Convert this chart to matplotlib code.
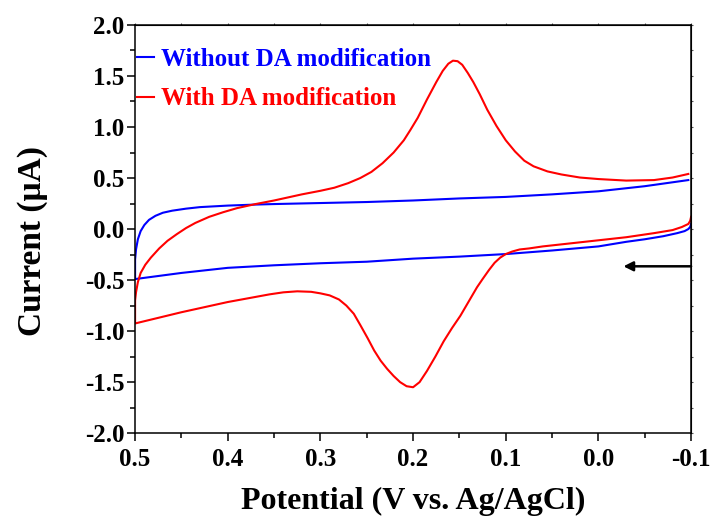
import matplotlib
matplotlib.use('Agg')
import matplotlib.pyplot as plt
from matplotlib.ticker import MultipleLocator

plt.rcParams['font.family'] = ['Liberation Serif', 'DejaVu Serif']
plt.rcParams['font.weight'] = 'bold'

# Without DA modification: lower branch (right -> left), then upper branch (left -> right)
blue_x = [-0.100, -0.099, -0.097, -0.093, -0.085, -0.070, -0.050, -0.030, 0.000, 0.050,
          0.100, 0.150, 0.200, 0.250, 0.300, 0.350, 0.400, 0.450, 0.500,
          0.500, 0.500, 0.499, 0.497, 0.494, 0.490, 0.485, 0.478, 0.470, 0.460,
          0.445, 0.430, 0.400, 0.370, 0.350, 0.300, 0.250, 0.200, 0.150, 0.100,
          0.050, 0.000, -0.050, -0.097]
blue_y = [0.05, 0.02, 0.00, -0.02, -0.04, -0.07, -0.10, -0.125, -0.17, -0.21,
          -0.245, -0.27, -0.29, -0.32, -0.335, -0.355, -0.38, -0.43, -0.49,
          -0.40, -0.30, -0.20, -0.10, -0.02, 0.04, 0.09, 0.13, 0.16, 0.18,
          0.20, 0.215, 0.23, 0.24, 0.245, 0.255, 0.265, 0.28, 0.30, 0.315,
          0.34, 0.37, 0.42, 0.48]

# With DA modification
red_x = [-0.100, -0.099, -0.097, -0.090, -0.080, -0.060, -0.030, 0.000, 0.030, 0.060,
         0.075, 0.085, 0.093, 0.100, 0.106, 0.112, 0.118, 0.125, 0.131, 0.140,
         0.149, 0.158, 0.167, 0.176, 0.185, 0.193, 0.200, 0.207, 0.214, 0.221,
         0.228, 0.235, 0.242, 0.249, 0.257, 0.264, 0.272, 0.280, 0.290, 0.300,
         0.310, 0.325, 0.340, 0.355, 0.370, 0.385, 0.400, 0.425, 0.450, 0.475, 0.500,
         0.500, 0.500, 0.499, 0.497, 0.494, 0.489, 0.483, 0.474, 0.465, 0.455,
         0.445, 0.435, 0.420, 0.405, 0.390, 0.370, 0.350, 0.335, 0.320, 0.300,
         0.285, 0.270, 0.257, 0.245, 0.233, 0.221, 0.210, 0.203, 0.195, 0.185,
         0.175, 0.168, 0.162, 0.157, 0.152, 0.147, 0.141, 0.135, 0.128, 0.120,
         0.110, 0.100, 0.090, 0.080, 0.070, 0.055, 0.040, 0.020, 0.000, -0.030,
         -0.060, -0.080, -0.097]
red_y = [0.12, 0.08, 0.05, 0.02, -0.01, -0.04, -0.08, -0.11, -0.14, -0.17,
         -0.19, -0.20, -0.22, -0.245, -0.28, -0.33, -0.40, -0.49, -0.57, -0.71,
         -0.85, -0.97, -1.10, -1.25, -1.39, -1.50, -1.55, -1.54, -1.50, -1.44,
         -1.37, -1.29, -1.19, -1.07, -0.94, -0.83, -0.75, -0.69, -0.65, -0.63,
         -0.615, -0.61, -0.62, -0.64, -0.665, -0.69, -0.715, -0.765, -0.815, -0.87, -0.925,
         -0.80, -0.70, -0.62, -0.52, -0.43, -0.35, -0.28, -0.19, -0.115, -0.05,
         0.01, 0.06, 0.12, 0.165, 0.205, 0.245, 0.28, 0.31, 0.34, 0.375,
         0.405, 0.45, 0.50, 0.56, 0.645, 0.75, 0.87, 0.97, 1.09, 1.27,
         1.44, 1.55, 1.62, 1.65, 1.645, 1.61, 1.53, 1.44, 1.32, 1.17,
         1.01, 0.87, 0.76, 0.67, 0.615, 0.565, 0.535, 0.505, 0.49, 0.475,
         0.48, 0.505, 0.54]

labels = ['Without DA modification', 'With DA modification']
colors = ['#0000ff', '#ff0000']

fig = plt.figure(figsize=(7.11, 5.20), dpi=100)
ax = fig.add_axes([0.190, 0.167, 0.782, 0.785])

ax.plot(blue_x, blue_y, color=colors[0], lw=1.5, label=labels[0])
ax.plot(red_x, red_y, color=colors[1], lw=1.5, label=labels[1])

# scan direction arrow
ax.annotate('', xy=(-0.027, -0.365), xytext=(-0.1, -0.365),
            arrowprops=dict(arrowstyle='-|>', color='black', lw=1.8, mutation_scale=14,
                            shrinkA=0, shrinkB=0))

ax.set_xlim(0.5, -0.1)
ax.set_ylim(-2.0, 2.0)
ax.xaxis.set_minor_locator(MultipleLocator(0.05))
ax.yaxis.set_minor_locator(MultipleLocator(0.25))
ax.set_xticks([0.5, 0.4, 0.3, 0.2, 0.1, 0.0, -0.1])
ax.set_xticklabels(['0.5', '0.4', '0.3', '0.2', '0.1', '0.0', '-0.1'])
ax.set_yticks([-2.0, -1.5, -1.0, -0.5, 0.0, 0.5, 1.0, 1.5, 2.0])
ax.set_yticklabels(['-2.0', '-1.5', '-1.0', '-0.5', '0.0', '0.5', '1.0', '1.5', '2.0'])
ax.tick_params(which='major', direction='out', length=6, width=1.1, labelsize=18)
ax.tick_params(axis='x', which='major', pad=5)
ax.tick_params(axis='y', which='major', pad=1.5)
ax.tick_params(which='minor', direction='out', length=3.5, width=1.1)
for s in ax.spines.values():
    s.set_linewidth(1.1)

# tiny ticks on top and right
top = ax.secondary_xaxis('top')
top.xaxis.set_major_locator(MultipleLocator(0.1))
top.xaxis.set_minor_locator(MultipleLocator(0.05))
top.tick_params(which='both', direction='out', length=1.5, width=0.8, labeltop=False, color='#555555')
right = ax.secondary_yaxis('right')
right.yaxis.set_major_locator(MultipleLocator(0.5))
right.yaxis.set_minor_locator(MultipleLocator(0.25))
right.tick_params(which='both', direction='out', length=1.5, width=0.8, labelright=False, color='#555555')

ax.set_xlabel('Potential (V vs. Ag/AgCl)', fontsize=23, fontweight='bold', labelpad=11)
ax.set_ylabel('Current (μA)', fontsize=24, fontweight='bold')
ax.yaxis.set_label_coords(-0.157, 0.47)

leg = ax.legend(loc='upper left', bbox_to_anchor=(0.004, 0.944), frameon=False, fontsize=18,
                handlelength=0.65, handletextpad=0.3, labelspacing=0.66,
                borderaxespad=0, borderpad=0, labelcolor='linecolor')

fig.savefig('out.png', dpi=100)
